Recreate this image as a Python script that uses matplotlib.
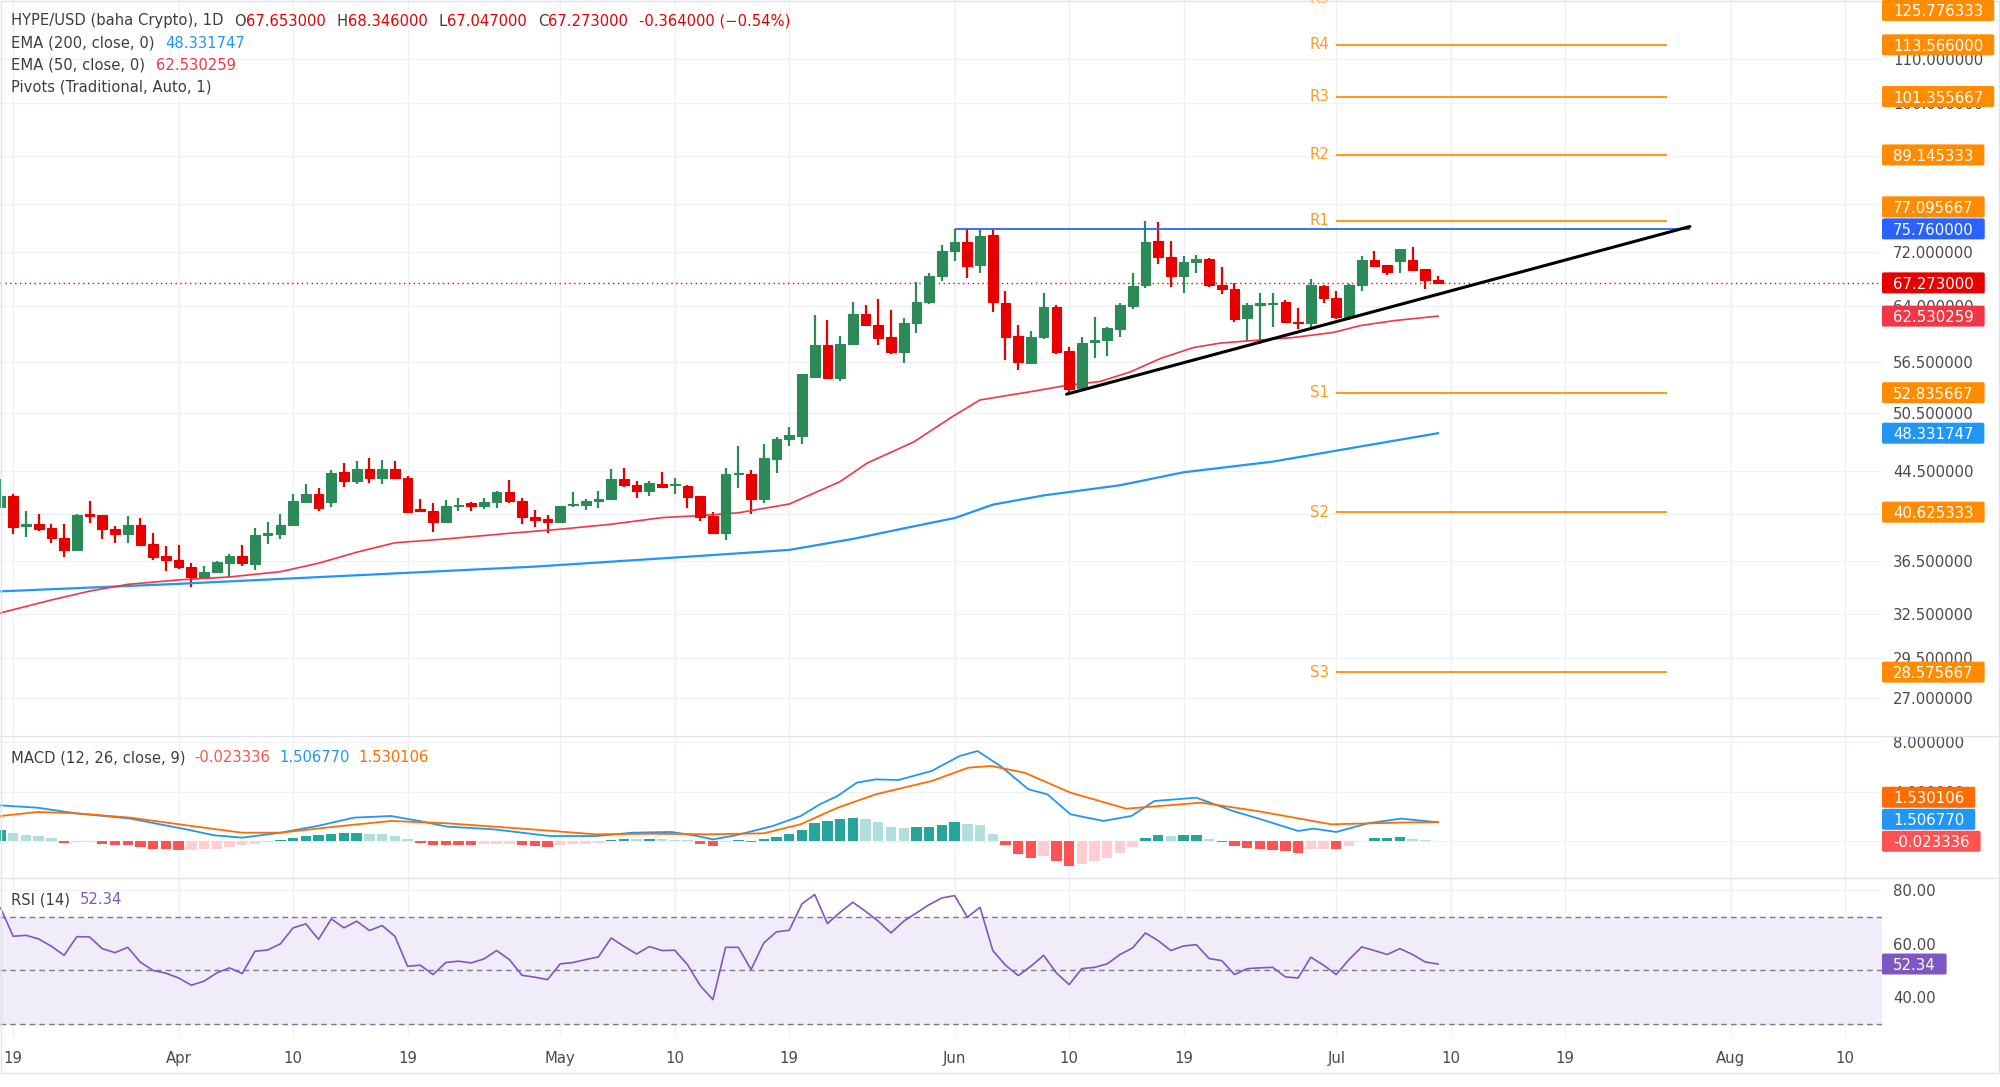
import numpy as np
import pandas as pd
import matplotlib
matplotlib.use("Agg")
import matplotlib.pyplot as plt
from matplotlib.patches import FancyBboxPatch, Rectangle
from matplotlib.lines import Line2D
from matplotlib.transforms import offset_copy
from matplotlib.ticker import FixedLocator, NullLocator, FuncFormatter

plt.rcParams['font.family'] = ['DejaVu Sans']

# ---------------- data ----------------
dates = pd.date_range('2025-03-18', '2025-07-09', freq='D')

opens = [41.12, 42.13, 39.39, 39.56, 39.22, 38.36, 37.39, 40.46, 40.34, 39.16,
         38.70, 39.48, 37.88, 36.87, 36.57, 35.99, 35.21, 35.60, 36.33, 36.87,
         36.25, 38.64, 38.73, 39.48, 41.55, 42.29, 41.55, 44.36, 43.54, 44.68,
         43.83, 44.68, 43.77, 40.88, 40.76, 39.76, 41.19, 41.43, 41.19, 41.55,
         42.47, 41.64, 40.18, 40.00, 39.73, 41.30, 41.30, 41.61, 41.82, 43.73,
         43.13, 42.57, 43.23, 43.11, 43.06, 42.09, 40.29, 38.83, 44.17, 44.23,
         41.79, 45.67, 47.73, 48.05, 54.71, 58.68, 54.54, 58.81, 62.82, 61.38,
         59.75, 57.72, 61.62, 64.55, 68.29, 72.16, 73.67, 70.00, 74.74, 64.32,
         59.86, 56.44, 59.76, 63.84, 57.90, 53.35, 59.03, 59.30, 60.75, 63.98,
         66.96, 73.75, 71.17, 68.34, 70.39, 70.90, 66.97, 66.34, 62.31, 64.08,
         64.18, 64.47, 61.77, 61.55, 66.86, 65.12, 62.36, 66.97, 70.75, 69.94,
         70.64, 70.75, 69.35, 67.653]
highs = [43.68, 42.29, 40.76, 40.46, 39.56, 39.56, 40.46, 41.61, 40.34, 39.42,
         40.29, 40.09, 38.81, 37.70, 37.78, 36.31, 36.06, 36.52, 37.06, 37.78,
         39.22, 39.79, 40.43, 42.26, 43.19, 42.85, 44.62, 45.27, 45.46, 45.77,
         45.54, 45.44, 43.99, 41.86, 41.43, 41.70, 41.89, 41.58, 41.89, 42.57,
         43.61, 41.89, 40.82, 40.37, 41.18, 42.45, 41.86, 42.59, 44.68, 44.81,
         43.51, 43.48, 44.36, 43.77, 43.13, 42.12, 40.67, 44.81, 47.01, 44.55,
         47.17, 47.94, 48.95, 55.10, 62.69, 62.00, 59.86, 64.55, 64.03, 64.89,
         63.38, 62.23, 67.45, 68.80, 73.12, 75.76, 75.76, 75.76, 75.53, 66.08,
         61.34, 60.51, 65.75, 64.08, 58.47, 59.67, 62.45, 61.10, 64.32, 68.71,
         77.08, 76.86, 73.75, 71.37, 71.53, 71.00, 69.61, 67.29, 64.32, 65.72,
         65.72, 64.79, 63.62, 67.80, 66.95, 66.08, 67.07, 71.42, 72.16, 70.00,
         72.47, 72.84, 69.40, 68.346]
lows = [41.05, 38.70, 38.47, 39.01, 37.94, 36.79, 37.33, 39.70, 38.33, 37.96,
        37.99, 37.78, 36.57, 35.73, 35.88, 34.49, 35.15, 35.57, 35.21, 36.09,
        35.80, 37.86, 38.28, 39.42, 41.48, 40.76, 41.09, 42.96, 43.23, 43.36,
        43.26, 43.80, 40.62, 40.64, 38.92, 39.70, 40.75, 40.76, 40.94, 41.03,
        41.42, 39.56, 39.30, 38.78, 39.70, 41.12, 40.79, 40.97, 41.76, 42.96,
        41.94, 42.09, 42.88, 42.29, 40.97, 39.88, 38.75, 38.22, 42.82, 40.46,
        41.43, 44.29, 46.94, 47.20, 54.60, 54.45, 54.25, 58.70, 61.12, 58.68,
        57.51, 56.44, 60.27, 64.18, 67.60, 70.61, 68.04, 68.73, 63.14, 56.78,
        55.54, 56.23, 59.46, 57.49, 52.77, 53.09, 56.99, 57.32, 59.76, 63.48,
        66.57, 70.18, 66.71, 65.84, 68.71, 66.71, 65.71, 61.77, 59.20, 58.81,
        61.10, 61.63, 60.73, 60.88, 64.32, 62.14, 62.00, 66.13, 69.73, 68.50,
        68.80, 69.10, 66.34, 67.047]
closes = [42.13, 39.30, 39.56, 39.16, 38.36, 37.39, 40.37, 40.28, 39.16, 38.70,
          39.48, 37.80, 36.84, 36.57, 35.99, 35.21, 35.60, 36.39, 36.87, 36.31,
          38.64, 38.81, 39.50, 41.64, 42.29, 41.03, 44.29, 43.54, 44.68, 43.83,
          44.68, 43.83, 40.67, 40.76, 39.79, 41.19, 41.28, 41.19, 41.55, 42.47,
          41.64, 40.18, 39.94, 39.76, 41.16, 41.36, 41.64, 41.82, 43.73, 43.16,
          42.57, 43.29, 42.91, 43.23, 42.03, 40.23, 38.78, 44.14, 44.29, 41.79,
          45.80, 47.77, 48.12, 55.02, 58.64, 54.61, 58.77, 62.82, 61.34, 59.58,
          57.72, 61.54, 64.55, 68.34, 72.21, 73.67, 69.84, 74.63, 64.55, 59.76,
          56.57, 59.76, 63.84, 57.82, 53.27, 58.99, 59.37, 60.88, 64.08, 66.86,
          73.67, 71.26, 68.34, 70.49, 70.90, 66.97, 66.34, 62.14, 64.08, 64.32,
          64.42, 61.69, 61.55, 66.97, 65.12, 62.36, 66.97, 70.75, 69.88, 68.97,
          72.43, 69.20, 67.65, 67.273]

# moving averages, read at points along the lines (x = days since Mar 18)
ema200_days = [0, 14, 28, 42, 55, 62, 67, 71, 75, 78, 82, 88, 93, 100, 107, 113]
ema200_vals = [34.13, 34.70, 35.36, 36.04, 36.90, 37.39, 38.30, 39.20, 40.10, 41.30,
               42.15, 43.10, 44.35, 45.40, 46.96, 48.33]
ema50_days = [0, 4, 7, 10, 14, 18, 22, 25, 28, 31, 35, 40, 44, 48, 52, 55, 58, 62, 66,
              68.1, 71.8, 74.9, 77, 81, 84, 86.4, 88.8, 91.2, 93.8, 95.9, 98, 101.6,
              104.8, 106.9, 109.5, 113]
ema50_vals = [32.55, 33.49, 34.15, 34.66, 35.00, 35.23, 35.64, 36.31, 37.20, 37.98, 38.30,
              38.78, 39.13, 39.56, 40.14, 40.32, 40.57, 41.36, 43.45, 45.24, 47.42, 50.19,
              52.00, 52.96, 53.74, 54.14, 55.30, 56.98, 58.36, 58.93, 59.20, 59.65, 60.33,
              61.24, 61.90, 62.53]

macd_days = [0, 2.9, 5.9, 10.2, 14.6, 16.8, 19.0, 22.0, 24.9, 27.8, 30.7, 32.9, 35.1, 38.8,
             41.0, 43.2, 46.8, 49.7, 52.7, 54.5, 56.0, 57.8, 60.7, 62.9, 64.4, 65.8, 67.3,
             68.8, 70.6, 73.2, 75.4, 76.8, 78.6, 80.8, 82.3, 84.1, 86.7, 88.9, 90.7, 94.0,
             96.9, 99.5, 102.0, 103.2, 105.0, 107.5, 110.1, 113]
macd_vals = [2.88, 2.69, 2.24, 1.81, 0.94, 0.46, 0.27, 0.67, 1.21, 1.89, 2.02, 1.62, 1.16,
             0.94, 0.67, 0.40, 0.40, 0.67, 0.73, 0.46, 0.13, 0.46, 1.21, 2.02, 2.96, 3.64,
             4.71, 4.98, 4.93, 5.66, 6.87, 7.27, 6.06, 4.18, 3.77, 2.16, 1.62, 2.02, 3.23,
             3.50, 2.42, 1.62, 0.81, 1.00, 0.73, 1.43, 1.81, 1.507]
signal_days = [0, 2.9, 5.9, 10.2, 14.6, 19.0, 22.0, 26.3, 30.7, 35.1, 41.0, 46.8, 51.2,
               55.6, 60.0, 62.9, 65.8, 68.8, 73.2, 76.1, 77.9, 80.5, 84.1, 88.5, 94.4,
               98.8, 104.6, 109.8, 113]
signal_vals = [2.02, 2.34, 2.24, 1.89, 1.27, 0.67, 0.67, 1.16, 1.62, 1.43, 1.00, 0.54, 0.59,
               0.54, 0.62, 1.35, 2.69, 3.77, 4.85, 5.93, 6.06, 5.52, 3.91, 2.61, 3.10, 2.42,
               1.35, 1.48, 1.53]
hist_vals = [0.86, 0.65, 0.50, 0.38, 0.22, -0.14, -0.10, -0.07, -0.22, -0.30,
             -0.35, -0.49, -0.62, -0.68, -0.76, -0.74, -0.68, -0.62, -0.49, -0.35,
             -0.22, -0.08, 0.05, 0.27, 0.40, 0.51, 0.59, 0.65, 0.68, 0.59,
             0.54, 0.40, 0.14, -0.14, -0.35, -0.35, -0.35, -0.35, -0.27, -0.25,
             -0.22, -0.35, -0.41, -0.46, -0.35, -0.27, -0.22, -0.14, 0.12, 0.15,
             0.14, 0.15, 0.13, 0.08, 0.05, -0.27, -0.41, -0.08, 0.08, -0.08,
             0.14, 0.32, 0.57, 0.89, 1.49, 1.62, 1.76, 1.86, 1.80, 1.54,
             1.13, 1.08, 1.13, 1.16, 1.32, 1.57, 1.35, 1.33, 0.54, -0.35,
             -1.08, -1.35, -1.20, -1.62, -2.02, -1.89, -1.62, -1.35, -0.95, -0.49,
             0.22, 0.49, 0.40, 0.49, 0.49, 0.14, -0.08, -0.41, -0.54, -0.68,
             -0.73, -0.81, -1.00, -0.68, -0.66, -0.68, -0.41, -0.03, 0.24, 0.27,
             0.32, 0.19, 0.08, -0.023]
rsi_vals = [73.4, 62.75, 63.1, 61.75, 59.0, 55.6, 62.6, 62.5, 58.1, 56.6,
            58.6, 53.0, 49.9, 48.9, 47.1, 44.4, 45.9, 49.0, 50.9, 48.75,
            57.1, 57.6, 59.9, 65.9, 67.4, 61.6, 69.25, 65.9, 68.4, 64.9,
            66.75, 62.75, 51.5, 51.9, 48.4, 52.9, 53.4, 52.75, 54.25, 57.4,
            54.0, 48.1, 47.4, 46.5, 52.4, 52.9, 54.0, 55.0, 62.1, 59.0,
            56.1, 58.9, 57.4, 57.5, 52.1, 44.25, 39.0, 58.6, 58.6, 50.25,
            60.25, 64.4, 65.0, 74.9, 78.4, 67.5, 71.75, 75.5, 72.1, 68.4,
            64.0, 68.4, 71.5, 74.6, 77.1, 78.0, 69.9, 73.6, 57.4, 51.9,
            48.0, 51.5, 55.6, 49.0, 44.6, 50.6, 51.1, 52.4, 55.9, 58.4,
            64.0, 61.1, 57.4, 59.1, 59.6, 54.4, 53.6, 48.4, 50.6, 50.9,
            51.1, 47.5, 47.1, 54.9, 51.9, 48.4, 54.0, 58.75, 57.4, 55.9,
            58.1, 55.9, 53.1, 52.34]

pivot_names = ['R5', 'R4', 'R3', 'R2', 'R1', 'S1', 'S2', 'S3']
pivot_levels = [125.776333, 113.566, 101.355667, 89.145333, 77.095667,
                52.835667, 40.625333, 28.575667]
pivot_span = (105, 131)
resistance_level = 75.76
resistance_span = (75, 132.8)
trend_days = [83.8, 132.8]
trend_prices = [52.66, 76.15]

tick_days = [1, 14, 23, 32, 44, 53, 62, 75, 84, 93, 105, 114, 123, 136, 145]
tick_labels = ['19', 'Apr', '10', '19', 'May', '10', '19', 'Jun', '10', '19',
               'Jul', '10', '19', 'Aug', '10']
price_ticks = [27, 29.5, 32.5, 36.5, 40.5, 44.5, 50.5, 56.5, 64, 72, 80, 89, 100, 110, 125]

# ---------------- styling ----------------
W, H = 2000, 1087
PLOT_RIGHT = 1882
UP, DOWN = '#2b8a57', '#e60000'
GRID = '#eff1f5'
BORDER = '#e0e3eb'
TXT = '#4a4a4a'
LEG = '#3d3d3d'
PIVOT = '#ff9a1f'
PIVOT_TAG = '#ff8c00'
FS = 10.7

fig = plt.figure(figsize=(W / 100, H / 100), dpi=100)
fig.patch.set_facecolor('white')


def pane(top, bottom, **kw):
    return fig.add_axes([0, 1 - bottom / H, PLOT_RIGHT / W, (bottom - top) / H], **kw)


ax = pane(0, 736)
ax_macd = pane(736, 878, sharex=ax)
ax_rsi = pane(878, 1037, sharex=ax)

for a in (ax, ax_macd, ax_rsi):
    for s in a.spines.values():
        s.set_visible(False)
    a.grid(True, color=GRID, lw=1.0)
    a.set_axisbelow(True)
    a.yaxis.tick_right()
    a.tick_params(axis='y', length=0, pad=8, labelsize=FS, labelcolor=TXT)
    a.tick_params(axis='x', length=0, labelbottom=False)

x = np.arange(len(dates))
o, h, l, c = map(np.array, (opens, highs, lows, closes))
col = np.where(c >= o, UP, DOWN)

# ---- main pane ----
ax.set_yscale('log')
ax.vlines(x, l, h, color=col, lw=1.6, zorder=2)
ax.bar(x, np.abs(c - o), bottom=np.minimum(o, c), width=0.76, color=col,
       edgecolor=col, lw=0.8, zorder=3)
ax.plot(ema200_days, ema200_vals, color='#2196f3', lw=1.6, zorder=2.5)
ax.plot(ema50_days, ema50_vals, color='#f23645', lw=1.2, zorder=2.5)
ax.axhline(closes[-1], color=DOWN, lw=1.0, ls=(0, (1, 2.5)), zorder=1.5)
ax.hlines(pivot_levels, *pivot_span, color=PIVOT, lw=1.5, zorder=1.8)
for name, lvl in zip(pivot_names, pivot_levels):
    ax.text(pivot_span[0], lvl, name, transform=offset_copy(ax.transData, fig=fig, x=-7, y=0, units='dots'),
            ha='right', va='center', color=PIVOT, fontsize=FS, clip_on=True)
ax.hlines(resistance_level, *resistance_span, color='#2962ff', lw=1.3, zorder=2)
ax.plot(trend_days, trend_prices, color='black', lw=2.2, zorder=4, solid_capstyle='round')
ax.set_ylim(24.83, 125.33)
ax.yaxis.set_major_locator(FixedLocator(price_ticks))
ax.yaxis.set_minor_locator(NullLocator())
ax.yaxis.set_major_formatter(FuncFormatter(lambda v, p: f'{v:.6f}'))

# ---- MACD pane ----
hcol = []
for i, v in enumerate(hist_vals):
    prev = hist_vals[i - 1] if i else v
    if v >= 0:
        hcol.append('#26a69a' if v >= prev else '#b2dfdb')
    else:
        hcol.append('#ff5252' if v <= prev else '#ffcdd2')
ax_macd.bar(x, hist_vals, width=0.82, color=hcol, zorder=2)
ax_macd.plot(macd_days, macd_vals, color='#2196f3', lw=1.3, zorder=3)
ax_macd.plot(signal_days, signal_vals, color='#ff6d00', lw=1.3, zorder=3)
ax_macd.set_ylim(-2.99, 8.485)
ax_macd.yaxis.set_major_locator(FixedLocator([0, 4, 8]))
ax_macd.yaxis.set_major_formatter(FuncFormatter(lambda v, p: f'{v:.6f}'))

# ---- RSI pane ----
ax_rsi.axhspan(30, 70, color='#f0ecf9', zorder=0.5)
for lvl in (70, 50, 30):
    ax_rsi.axhline(lvl, color='#787b86', lw=1.0, ls=(0, (4, 3)), zorder=1)
ax_rsi.plot(x, rsi_vals, color='#7e57c2', lw=1.2, zorder=3)
ax_rsi.set_ylim(24.97, 84.6)
ax_rsi.yaxis.set_major_locator(FixedLocator([40, 60, 80]))
ax_rsi.yaxis.set_major_formatter(FuncFormatter(lambda v, p: f'{v:.2f}'))

ax.set_xlim(-0.04, 147.9)
ax_rsi.set_xticks(tick_days, tick_labels)
ax_rsi.tick_params(axis='x', labelbottom=True, pad=10, labelsize=FS, labelcolor=TXT)

# frame and pane separators
fig.add_artist(Rectangle((0.5 / W, 1 - 1073 / H), 1998 / W, 1072.5 / H, fill=False,
                         ec=BORDER, lw=1.0, transform=fig.transFigure))
for yy in (736, 878):
    fig.add_artist(Line2D([0, 1], [1 - yy / H] * 2, color=BORDER, lw=1.0,
                          transform=fig.transFigure))

fig.canvas.draw()
renderer = fig.canvas.get_renderer()

TAG_H = 21


def axis_tags(a, tags):
    top = a.get_window_extent().y1
    items = sorted([[a.transData.transform((0, v))[1], s, cl] for v, s, cl in tags])
    prev = None
    for it in items:
        if prev is not None and it[0] < prev + TAG_H + 1:
            it[0] = prev + TAG_H + 1
        it[0] = min(it[0], top - TAG_H / 2)
        prev = it[0]
    for py, s, cl in items:
        t = fig.text(1893 / W, py / H, s, color='white', fontsize=FS, ha='left',
                     va='center_baseline', zorder=6)
        w = t.get_window_extent(renderer).width
        fig.add_artist(FancyBboxPatch((PLOT_RIGHT / W, (py - TAG_H / 2) / H), (w + 22) / W, TAG_H / H,
                                      boxstyle='round,pad=0,rounding_size=0.0012', fc=cl, ec='none',
                                      transform=fig.transFigure, zorder=5))


axis_tags(ax, [(pivot_levels[0], '125.776333', PIVOT_TAG),
               (pivot_levels[1], '113.566000', PIVOT_TAG),
               (pivot_levels[2], '101.355667', PIVOT_TAG),
               (pivot_levels[3], '89.145333', PIVOT_TAG),
               (pivot_levels[4], '77.095667', PIVOT_TAG),
               (resistance_level, '75.760000', '#2962ff'),
               (closes[-1], '67.273000', DOWN),
               (ema50_vals[-1], '62.530259', '#f23645'),
               (pivot_levels[5], '52.835667', PIVOT_TAG),
               (ema200_vals[-1], '48.331747', '#2196f3'),
               (pivot_levels[6], '40.625333', PIVOT_TAG),
               (pivot_levels[7], '28.575667', PIVOT_TAG)])
axis_tags(ax_macd, [(signal_vals[-1], '1.530106', '#ff6d00'),
                    (macd_vals[-1], '1.506770', '#2196f3'),
                    (hist_vals[-1], '-0.023336', '#ff5252')])
axis_tags(ax_rsi, [(rsi_vals[-1], '52.34', '#7e57c2')])


def legend_row(x0, y_top, pieces, size=10.6):
    xx = x0
    for text, color, gap in pieces:
        xx += gap
        t = fig.text(xx / W, 1 - y_top / H, text, color=color, fontsize=size,
                     ha='left', va='center', zorder=6)
        xx = t.get_window_extent(renderer).x1


legend_row(11, 21, [('HYPE/USD (baha Crypto), 1D', LEG, 0),
                    ('O', LEG, 11), ('67.653000', DOWN, 0),
                    ('H', LEG, 11), ('68.346000', DOWN, 0),
                    ('L', LEG, 11), ('67.047000', DOWN, 0),
                    ('C', LEG, 11), ('67.273000', DOWN, 0),
                    ('-0.364000 (\u22120.54%)', DOWN, 11)])
legend_row(11, 43, [('EMA (200, close, 0)', LEG, 0), ('48.331747', '#2196f3', 11)])
legend_row(11, 65, [('EMA (50, close, 0)', LEG, 0), ('62.530259', '#f23645', 11)])
legend_row(11, 87, [('Pivots (Traditional, Auto, 1)', LEG, 0)])
legend_row(11, 758, [('MACD (12, 26, close, 9)', LEG, 0), ('-0.023336', '#ff5252', 9),
                     ('1.506770', '#2196f3', 9), ('1.530106', '#ff6d00', 9)])
legend_row(11, 900, [('RSI (14)', LEG, 0), ('52.34', '#7e57c2', 10)])

fig.savefig('out.png', dpi=100, facecolor='white')
